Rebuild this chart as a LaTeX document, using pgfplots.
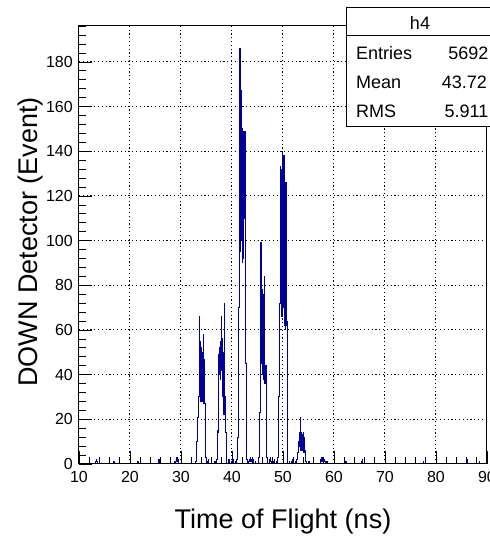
\documentclass[border=0pt]{standalone}
\usepackage{fontspec}
\setmainfont{Liberation Sans}
\usepackage{pgfplots}
\pgfplotsset{compat=1.18}
\definecolor{histblue}{RGB}{0,0,153}

\begin{document}
\begin{tikzpicture}[x=1pt,y=1pt]
\begin{axis}[
  at={(79pt,72pt)}, anchor=south west,
  scale only axis, width=408pt, height=438pt,
  xmin=10, xmax=90, ymin=0, ymax=196.1,
  xtick={10,20,...,90}, ytick={0,20,...,180},
  minor xtick={10,12,...,90}, minor ytick={0,4,...,196},
  tick align=inside, tick pos=left,
  major tick length=12.5pt, minor tick length=6.5pt,
  every tick/.style={black, line width=0.8pt},
  grid=major,
  major grid style={black, line width=1pt, dash pattern=on 1.2pt off 2.6pt},
  axis line style={black, line width=1pt},
  tick label style={font=\fontsize{16}{16}\selectfont},
  /pgf/number format/assume math mode=true,
  xticklabel style={anchor=north, inner sep=0pt, yshift=-7pt},
  yticklabel style={anchor=east, inner sep=0pt, xshift=-6pt},
  clip=false,
]
\addplot[const plot mark left, histblue, line width=1pt] table[row sep=\\] {
x y \\
10.0 0 \\
13.3 1 \\ 13.4 2 \\ 13.5 1 \\ 13.6 0 \\
16.8 1 \\ 16.9 1 \\ 17.0 0 \\
21.5 1 \\ 21.6 0 \\
25.5 1 \\ 25.6 2 \\ 25.7 0 \\
28.8 1 \\ 28.9 0 \\
29.0 1 \\ 29.1 2 \\ 29.2 3 \\ 29.3 2 \\ 29.4 1 \\ 29.5 2 \\ 29.6 0 \\
32.0 1 \\ 32.1 0 \\
32.9 1 \\
33.0 3 \\ 33.1 10 \\ 33.2 20 \\ 33.3 21 \\ 33.4 28 \\ 33.5 30 \\ 33.6 66 \\ 33.7 30 \\ 33.8 55 \\ 33.9 28 \\
34.0 52 \\ 34.1 33 \\ 34.2 50 \\ 34.3 28 \\ 34.4 58 \\ 34.5 27 \\ 34.6 47 \\ 34.7 27 \\ 34.8 26 \\ 34.9 3 \\
35.0 0 \\ 35.2 1 \\ 35.3 2 \\ 35.4 0 \\ 35.9 1 \\ 36.0 0 \\ 36.6 1 \\ 36.7 0 \\
37.0 2 \\ 37.1 8 \\ 37.2 15 \\ 37.3 14 \\ 37.4 49 \\ 37.5 40 \\ 37.6 52 \\ 37.7 38 \\ 37.8 55 \\ 37.9 66 \\
38.0 42 \\ 38.1 56 \\ 38.2 30 \\ 38.3 50 \\ 38.4 22 \\ 38.5 72 \\ 38.6 25 \\ 38.7 30 \\ 38.8 14 \\ 38.9 3 \\
39.0 0 \\ 39.3 1 \\ 39.4 2 \\ 39.5 1 \\ 39.6 0 \\
40.0 1 \\ 40.1 2 \\ 40.2 1 \\ 40.3 0 \\ 40.6 1 \\ 40.7 0 \\
40.9 2 \\ 41.0 11 \\ 41.1 12 \\ 41.2 69 \\ 41.3 70 \\ 41.4 110 \\ 41.5 186 \\ 41.6 95 \\ 41.7 167 \\ 41.8 100 \\ 41.9 150 \\
42.0 90 \\ 42.1 149 \\ 42.2 92 \\ 42.3 147 \\ 42.4 110 \\ 42.5 149 \\ 42.6 120 \\ 42.7 45 \\ 42.8 38 \\ 42.9 2 \\
43.0 0 \\ 43.3 1 \\ 43.4 2 \\ 43.5 1 \\ 43.6 3 \\ 43.7 2 \\ 43.8 1 \\ 43.9 2 \\
44.0 3 \\ 44.1 1 \\ 44.2 2 \\ 44.3 0 \\ 44.6 1 \\ 44.7 0 \\
45.2 3 \\ 45.3 21 \\ 45.4 23 \\ 45.5 32 \\ 45.6 99 \\ 45.7 45 \\ 45.8 78 \\ 45.9 40 \\
46.0 76 \\ 46.1 38 \\ 46.2 72 \\ 46.3 84 \\ 46.4 36 \\ 46.5 44 \\ 46.6 44 \\ 46.7 42 \\ 46.8 3 \\ 46.9 0 \\
47.3 1 \\ 47.4 2 \\ 47.5 3 \\ 47.6 1 \\ 47.7 0 \\
48.2 1 \\ 48.3 2 \\ 48.4 0 \\ 48.8 1 \\ 48.9 0 \\
49.0 3 \\ 49.1 30 \\ 49.2 30 \\ 49.3 70 \\ 49.4 72 \\ 49.5 133 \\ 49.6 80 \\ 49.7 132 \\ 49.8 66 \\ 49.9 140 \\
50.0 70 \\ 50.1 138 \\ 50.2 62 \\ 50.3 122 \\ 50.4 60 \\ 50.5 126 \\ 50.6 62 \\ 50.7 64 \\ 50.8 0 \\
51.2 1 \\ 51.3 0 \\ 51.7 1 \\ 51.8 2 \\ 51.9 0 \\ 52.4 1 \\ 52.5 0 \\
52.7 2 \\ 52.8 5 \\ 52.9 5 \\ 53.0 6 \\ 53.1 10 \\ 53.2 14 \\ 53.3 8 \\ 53.4 21 \\ 53.5 6 \\ 53.6 14 \\ 53.7 7 \\ 53.8 13 \\ 53.9 6 \\
54.0 14 \\ 54.1 5 \\ 54.2 12 \\ 54.3 6 \\ 54.4 6 \\ 54.5 1 \\ 54.6 0 \\
55.0 1 \\ 55.1 0 \\ 55.9 1 \\ 56.0 0 \\
57.3 1 \\ 57.4 2 \\ 57.5 1 \\ 57.6 3 \\ 57.7 2 \\ 57.8 1 \\ 57.9 2 \\ 58.0 1 \\ 58.1 2 \\ 58.2 1 \\ 58.3 0 \\
58.6 1 \\ 58.7 0 \\
62.3 1 \\ 62.4 0 \\
65.4 1 \\ 65.5 2 \\ 65.6 0 \\
77.5 1 \\ 77.6 0 \\
86.0 1 \\ 86.1 2 \\ 86.2 0 \\
88.5 1 \\ 88.6 0 \\
90.0 0 \\
};
\draw[black, line width=1pt] (rel axis cs:0,0) -- (rel axis cs:1,0);
\end{axis}

\node[anchor=base, font=\fontsize{27}{27}\selectfont] at (283,7) {Time of Flight (ns)};
\node[anchor=base, rotate=90, font=\fontsize{27}{27}\selectfont] at (37.5,294) {DOWN Detector (Event)};

% statistics box
\fill[white] (346.7,409.3) rectangle (495,528.7);
\draw[black, line width=1pt] (495,528.7) -- (346.7,528.7) -- (346.7,409.3) -- (495,409.3);
\draw[black, line width=1pt] (346.7,500.3) -- (495,500.3);
\begin{scope}[every node/.style={font=\fontsize{18}{18}\selectfont, inner sep=0pt}]
\node[anchor=base] at (420,506.9) {h4};
\node[anchor=base west] at (356,476.3) {Entries};
\node[anchor=base east] at (488.5,476.3) {5692};
\node[anchor=base west] at (356,447.9) {Mean};
\node[anchor=base east] at (487,447.9) {43.72};
\node[anchor=base west] at (356,418.6) {RMS};
\node[anchor=base east] at (488.5,418.6) {5.911};
\end{scope}

\pgfresetboundingbox
\useasboundingbox (0,0) rectangle (490,536);
\end{tikzpicture}
\end{document}
